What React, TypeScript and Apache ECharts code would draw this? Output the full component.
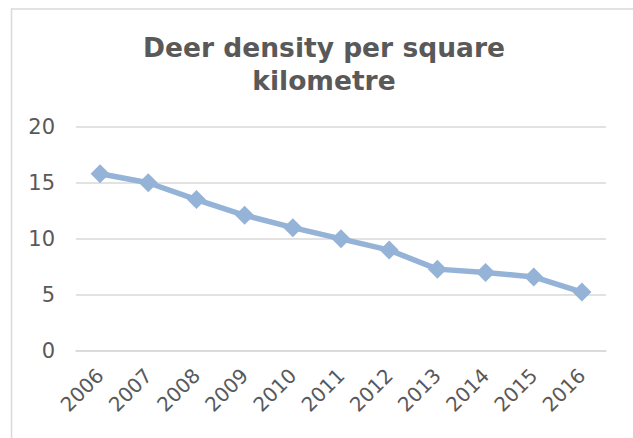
import React, { useEffect, useRef } from "react";
import * as echarts from "echarts";

const years = ["2006", "2007", "2008", "2009", "2010", "2011", "2012", "2013", "2014", "2015", "2016"];
const density = [15.8, 15.0, 13.5, 12.1, 11.0, 10.0, 9.0, 7.3, 7.0, 6.6, 5.25];
const titleText = "Deer density per square\nkilometre";

export default function App() {
  const ref = useRef<HTMLDivElement>(null);
  useEffect(() => {
    if (!ref.current) return;
    const chart = echarts.init(ref.current, null, { renderer: "svg" });
    const font = "DejaVu Sans";
    chart.setOption({
      animation: false,
      backgroundColor: "#ffffff",
      graphic: [
        {
          type: "rect",
          shape: { x: 11.5, y: 9, width: 700, height: 500 },
          style: { fill: "none", stroke: "#D9D9D9", lineWidth: 1.5 },
          silent: true,
          z: -1,
        },
        {
          type: "text",
          x: 324,
          y: 64,
          style: {
            text: titleText,
            align: "center",
            verticalAlign: "middle",
            fontFamily: font,
            fontWeight: "bold",
            fontSize: 26.5,
            lineHeight: 33,
            fill: "#595959",
          },
        },
      ],
      grid: { left: 76, right: 27, top: 126.7, bottom: 87, containLabel: false },
      xAxis: {
        type: "category",
        data: years,
        boundaryGap: true,
        axisLine: { show: true, lineStyle: { color: "#D9D9D9", width: 1.5 } },
        axisTick: { show: false },
        axisLabel: {
          rotate: 45,
          color: "#595959",
          fontFamily: font,
          fontSize: 20,
          margin: 21,
          interval: 0,
        },
      },
      yAxis: {
        type: "value",
        min: 0,
        max: 20,
        interval: 5,
        axisLine: { show: false },
        axisTick: { show: false },
        axisLabel: { color: "#595959", fontFamily: font, fontSize: 21, margin: 21 },
        splitLine: { lineStyle: { color: "#D9D9D9", width: 1.5 } },
      },
      series: [
        {
          type: "line",
          data: density,
          symbol: "diamond",
          symbolSize: 19,
          itemStyle: { color: "#95B3D7" },
          lineStyle: { color: "#95B3D7", width: 5.5 },
        },
      ],
    });
    return () => chart.dispose();
  }, []);
  return (
    <div
      ref={ref}
      style={{ position: "fixed", left: 0, top: 0, width: 633, height: 438 }}
    />
  );
}
